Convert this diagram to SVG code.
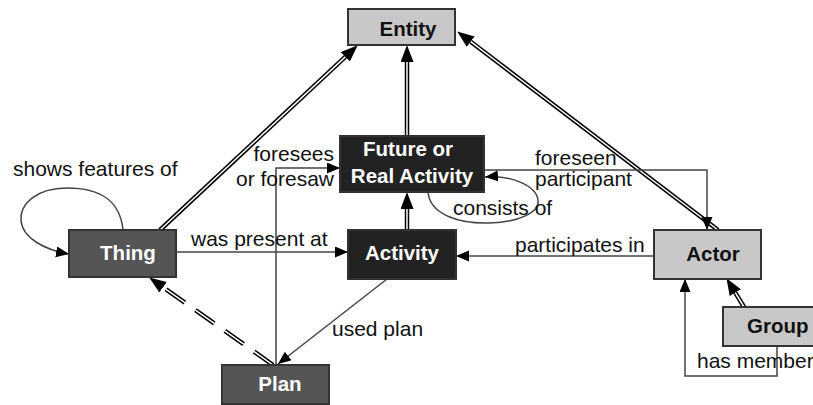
<svg xmlns="http://www.w3.org/2000/svg" width="813" height="405" viewBox="0 0 813 405">
  <defs>
    <!-- small solid arrowhead, tip at path end -->
    <marker id="arr" markerUnits="userSpaceOnUse" markerWidth="14" markerHeight="12" refX="13" refY="5.5" orient="auto">
      <path d="M0,0 L13,5.5 L0,11 z" fill="#000"/>
    </marker>
    <!-- large arrowhead for is-a links, base at path end -->
    <marker id="isa" markerUnits="userSpaceOnUse" markerWidth="18" markerHeight="14" refX="0" refY="6.5" orient="auto">
      <path d="M0,0 L17,6.5 L0,13 z" fill="#000"/>
    </marker>
    <style>
      .box-dark { fill: #222; stroke: #333; stroke-width: 2; }
      .box-mid { fill: #555; stroke: #333; stroke-width: 2; }
      .box-light { fill: #c8c8c8; stroke: #333; stroke-width: 2; }
      .lbl-w { font-family: "Liberation Sans", Arial, sans-serif; font-size: 20.5px; font-weight: bold; fill: #fff; }
      .lbl-b { font-family: "Liberation Sans", Arial, sans-serif; font-size: 20.5px; font-weight: bold; fill: #111; }
      .txt { font-family: "Liberation Sans", Arial, sans-serif; font-size: 21px; fill: #111; }
      .thin { fill: none; stroke: #444; stroke-width: 1.5; }
      .dbl-out { fill: none; stroke: #000; stroke-width: 4.5; }
      .dbl-in { fill: none; stroke: #fff; stroke-width: 1.5; }
    </style>
  </defs>

  <rect width="813" height="405" fill="#fff"/>

  <g id="connectors">
    <!-- is-a links (double lines) -->
    <path class="dbl-out" d="M160,230 L345.3,56.9" marker-end="url(#isa)"/>
    <path class="dbl-in" d="M160,230 L345.3,56.9"/>
    <path class="dbl-out" d="M407,136 L407,62" marker-end="url(#isa)"/>
    <path class="dbl-in" d="M407,136 L407,62"/>
    <path class="dbl-out" d="M718,230 L470.7,41.7" marker-end="url(#isa)"/>
    <path class="dbl-in" d="M718,230 L470.7,41.7"/>
    <path class="dbl-out" d="M407,230 L407,209" marker-end="url(#isa)"/>
    <path class="dbl-in" d="M407,230 L407,209"/>
    <path class="dbl-out" d="M744,307 L735.3,292.7" marker-end="url(#isa)"/>
    <path class="dbl-in" d="M744,307 L735.3,292.7"/>
    <!-- dashed is-a link Plan to Thing -->
    <path class="dbl-out" d="M273,365 L163.1,287.2" stroke-dasharray="23,13" marker-end="url(#isa)"/>
    <path class="dbl-in" d="M273,365 L163.1,287.2" stroke-dasharray="23,13"/>

    <!-- property links -->
    <path class="thin" d="M176,252 H348" marker-end="url(#arr)"/>
    <path class="thin" d="M654,256 H456" marker-end="url(#arr)"/>
    <path class="thin" d="M387,279 L278,364" marker-end="url(#arr)"/>
    <path class="thin" d="M276,365 V168 H340" marker-end="url(#arr)"/>
    <path class="thin" d="M484,170 H707 V230" marker-end="url(#arr)"/>
    <path class="thin" d="M777,346 V376 H685 V279" marker-end="url(#arr)"/>
    <path class="thin" d="M123,230 C120,200 100,188 67,188 C35,188 20,205 21,220 C22,238 45,250 69,254" marker-end="url(#arr)"/>
    <path class="thin" d="M428,192 C430,215 460,224 490,223 C520,222 540,212 538,200 C536,185 510,175 485,177" marker-end="url(#arr)"/>
  </g>

  <g id="labels">
    <text class="txt" x="13" y="176">shows features of</text>
    <text class="txt" x="191" y="246">was present at</text>
    <text class="txt" x="334" y="161" text-anchor="end">foresees</text>
    <text class="txt" x="334" y="186" text-anchor="end">or foresaw</text>
    <text class="txt" x="535" y="165">foreseen</text>
    <text class="txt" x="535" y="186">participant</text>
    <text class="txt" x="453" y="215">consists of</text>
    <text class="txt" x="515" y="252">participates in</text>
    <text class="txt" x="332" y="336">used plan</text>
    <text class="txt" x="697" y="368">has member</text>
  </g>

  <g id="entity">
    <rect class="box-light" x="348" y="9" width="107" height="36"/>
    <text class="lbl-b" x="408" y="36" text-anchor="middle">Entity</text>
  </g>
  <g id="future-or-real-activity">
    <rect class="box-dark" x="340" y="136" width="144" height="56"/>
    <text class="lbl-w" x="408" y="156" text-anchor="middle">Future or</text>
    <text class="lbl-w" x="412" y="183" text-anchor="middle">Real Activity</text>
  </g>
  <g id="thing">
    <rect class="box-mid" x="69" y="230" width="107" height="47"/>
    <text class="lbl-w" x="128" y="260" text-anchor="middle">Thing</text>
  </g>
  <g id="activity">
    <rect class="box-dark" x="348" y="230" width="108" height="49"/>
    <text class="lbl-w" x="402" y="260" text-anchor="middle">Activity</text>
  </g>
  <g id="actor">
    <rect class="box-light" x="654" y="230" width="107" height="49"/>
    <text class="lbl-b" x="713" y="261" text-anchor="middle">Actor</text>
  </g>
  <g id="group">
    <rect class="box-light" x="723" y="307" width="100" height="39"/>
    <text class="lbl-b" x="747" y="333">Group</text>
  </g>
  <g id="plan">
    <rect class="box-mid" x="222" y="365" width="107" height="39"/>
    <text class="lbl-w" x="280" y="391" text-anchor="middle">Plan</text>
  </g>
</svg>
